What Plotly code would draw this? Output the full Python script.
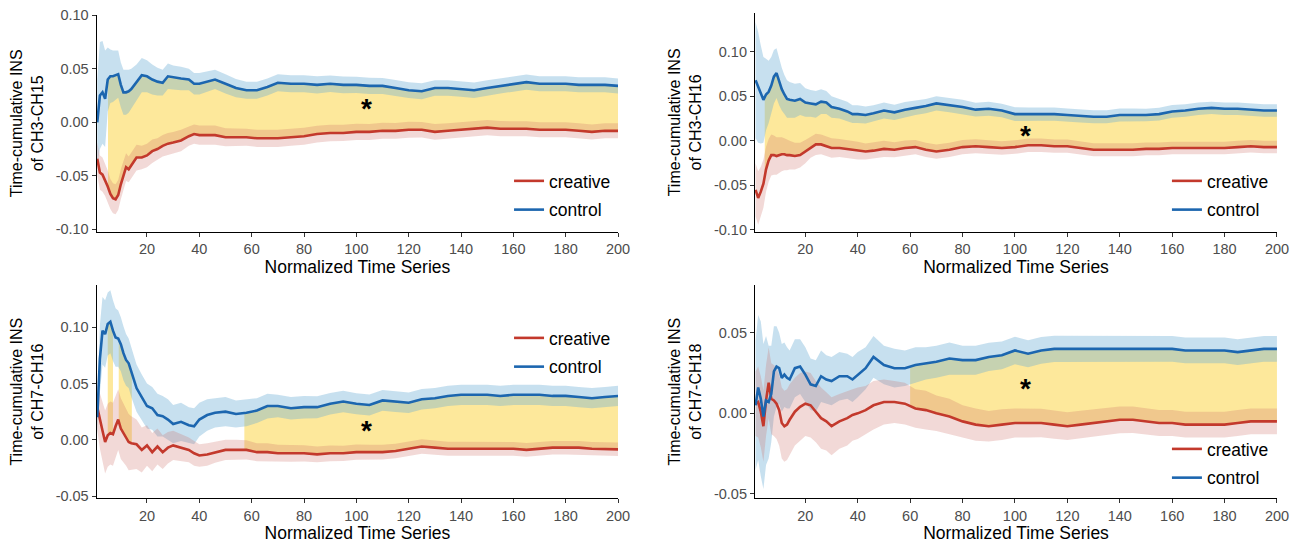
import numpy as np
import plotly.graph_objects as go

# ---------------- data ----------------
x_grid = [1, 2, 3, 4, 5, 6, 7, 8, 9, 10, 11, 12, 13, 14,
          16, 18, 20, 22, 24, 26, 28, 30,
          33, 36, 38, 40,
          43, 46, 50, 54, 58, 62, 66, 70,
          75, 80, 85, 90, 95, 100, 105, 110, 115, 120, 125, 130, 135, 140,
          145, 150, 155, 160, 165, 170, 175, 180, 185, 190, 195, 200]

channels = ["CH3-CH15", "CH3-CH16", "CH7-CH16", "CH7-CH18"]
groups = ["creative", "control"]
x_ticks = [20, 40, 60, 80, 100, 120, 140, 160, 180, 200]

# CH3-CH15
p1_control = [0.000, 0.025, 0.028, 0.022, 0.040, 0.043, 0.043, 0.044, 0.045, 0.035, 0.028, 0.028, 0.029, 0.031,
              0.037, 0.044, 0.043, 0.040, 0.038, 0.037, 0.043, 0.042,
              0.041, 0.040, 0.036, 0.036,
              0.038, 0.040, 0.036, 0.032, 0.030, 0.030, 0.033, 0.037,
              0.036, 0.036, 0.035, 0.036, 0.035, 0.035, 0.034, 0.034, 0.032, 0.030, 0.029, 0.032, 0.032, 0.031,
              0.030, 0.032, 0.034, 0.036, 0.0375, 0.036, 0.036, 0.036, 0.035, 0.035, 0.035, 0.034]
p1_control_ci = [0.040, 0.050, 0.048, 0.045, 0.030, 0.025, 0.024, 0.023, 0.022, 0.021, 0.021, 0.021, 0.020, 0.019,
                 0.017, 0.016, 0.015, 0.014, 0.013, 0.012, 0.012, 0.011,
                 0.011, 0.010, 0.010, 0.010,
                 0.0095, 0.009, 0.009, 0.0085, 0.008, 0.008, 0.008, 0.008,
                 0.008, 0.008, 0.008, 0.0078, 0.0078, 0.0076, 0.0076, 0.0075, 0.0075, 0.0074, 0.0074, 0.0073, 0.0073, 0.0072,
                 0.0072, 0.0072, 0.0071, 0.0071, 0.0071, 0.007, 0.007, 0.007, 0.007, 0.007, 0.007, 0.007]
p1_creative = [-0.034, -0.047, -0.049, -0.054, -0.060, -0.067, -0.071, -0.072, -0.068, -0.058, -0.050, -0.042, -0.044, -0.040,
               -0.033, -0.033, -0.031, -0.027, -0.025, -0.022, -0.020, -0.019,
               -0.017, -0.013, -0.011, -0.012,
               -0.012, -0.012, -0.014, -0.014, -0.014, -0.015, -0.015, -0.015,
               -0.014, -0.013, -0.011, -0.010, -0.010, -0.009, -0.009, -0.008, -0.008, -0.007, -0.007, -0.009, -0.008, -0.007,
               -0.006, -0.005, -0.006, -0.006, -0.006, -0.007, -0.007, -0.007, -0.008, -0.009, -0.008, -0.008]
p1_creative_ci = [0.015, 0.016, 0.016, 0.015, 0.015, 0.014, 0.014, 0.014, 0.014, 0.014, 0.013, 0.013, 0.012, 0.012,
                  0.012, 0.011, 0.011, 0.011, 0.010, 0.010, 0.010, 0.010,
                  0.010, 0.009, 0.009, 0.009,
                  0.009, 0.009, 0.0085, 0.0085, 0.008, 0.008, 0.008, 0.008,
                  0.008, 0.008, 0.0078, 0.0078, 0.0076, 0.0076, 0.0075, 0.0075, 0.0074, 0.0074, 0.0073, 0.0073, 0.0072, 0.0072,
                  0.0072, 0.0071, 0.0071, 0.0071, 0.007, 0.007, 0.007, 0.007, 0.007, 0.007, 0.007, 0.007]

# CH3-CH16
p2_control = [0.068, 0.060, 0.052, 0.046, 0.052, 0.055, 0.062, 0.072, 0.076, 0.066, 0.058, 0.052, 0.047, 0.046,
              0.045, 0.047, 0.043, 0.042, 0.041, 0.044, 0.043, 0.038,
              0.036, 0.033, 0.030, 0.030,
              0.029, 0.031, 0.034, 0.032, 0.035, 0.037, 0.039, 0.042,
              0.040, 0.038, 0.035, 0.036, 0.034, 0.030, 0.030, 0.030, 0.030, 0.029, 0.028, 0.027, 0.027, 0.029,
              0.029, 0.029, 0.030, 0.033, 0.034, 0.036, 0.037, 0.036, 0.036, 0.035, 0.034, 0.034]
p2_control_ci = [0.065, 0.062, 0.055, 0.048, 0.040, 0.035, 0.032, 0.030, 0.028, 0.026, 0.024, 0.022, 0.021, 0.020,
                 0.019, 0.018, 0.016, 0.015, 0.015, 0.014, 0.013, 0.012,
                 0.011, 0.011, 0.010, 0.010,
                 0.0095, 0.009, 0.009, 0.0085, 0.0085, 0.008, 0.008, 0.008,
                 0.008, 0.008, 0.0078, 0.0078, 0.0076, 0.0076, 0.0075, 0.0075, 0.0074, 0.0074, 0.0073, 0.0073, 0.0072, 0.0072,
                 0.0072, 0.0071, 0.0071, 0.0071, 0.007, 0.007, 0.007, 0.007, 0.007, 0.007, 0.007, 0.007]
p2_creative = [-0.055, -0.064, -0.057, -0.048, -0.032, -0.022, -0.016, -0.016, -0.017, -0.016, -0.015, -0.015, -0.016, -0.016,
               -0.017, -0.016, -0.012, -0.007, -0.004, -0.004, -0.006, -0.008,
               -0.008, -0.009, -0.010, -0.011,
               -0.012, -0.011, -0.009, -0.010, -0.008, -0.007, -0.010, -0.012,
               -0.010, -0.007, -0.006, -0.007, -0.008, -0.007, -0.005, -0.005, -0.006, -0.006, -0.008, -0.010, -0.010, -0.010,
               -0.010, -0.009, -0.009, -0.008, -0.008, -0.008, -0.008, -0.008, -0.007, -0.006, -0.007, -0.007]
p2_creative_ci = [0.030, 0.030, 0.028, 0.027, 0.025, 0.024, 0.023, 0.022, 0.021, 0.020, 0.019, 0.018, 0.017, 0.016,
                  0.015, 0.014, 0.013, 0.012, 0.012, 0.011, 0.011, 0.011,
                  0.010, 0.010, 0.010, 0.010,
                  0.009, 0.009, 0.009, 0.0085, 0.0085, 0.008, 0.008, 0.008,
                  0.008, 0.008, 0.0078, 0.0078, 0.0076, 0.0076, 0.0075, 0.0075, 0.0074, 0.0074, 0.0073, 0.0073, 0.0072, 0.0072,
                  0.0072, 0.0071, 0.0071, 0.0071, 0.007, 0.007, 0.007, 0.007, 0.007, 0.007, 0.007, 0.007]

# CH7-CH16
p3_control = [0.020, 0.072, 0.097, 0.094, 0.103, 0.105, 0.097, 0.091, 0.090, 0.085, 0.077, 0.071, 0.068, 0.060,
              0.046, 0.038, 0.030, 0.028, 0.022, 0.021, 0.018, 0.014,
              0.016, 0.013, 0.012, 0.018,
              0.022, 0.024, 0.025, 0.023, 0.024, 0.026, 0.030, 0.030,
              0.028, 0.029, 0.029, 0.032, 0.034, 0.032, 0.031, 0.035, 0.034, 0.033, 0.036, 0.037, 0.039, 0.040,
              0.040, 0.040, 0.039, 0.040, 0.040, 0.040, 0.039, 0.039, 0.038, 0.037, 0.038, 0.039]
p3_control_ci = [0.015, 0.030, 0.030, 0.030, 0.028, 0.028, 0.027, 0.026, 0.025, 0.024, 0.024, 0.023, 0.022, 0.022,
                 0.021, 0.020, 0.020, 0.019, 0.019, 0.018, 0.018, 0.017,
                 0.017, 0.016, 0.016, 0.015,
                 0.014, 0.013, 0.013, 0.012, 0.012, 0.011, 0.011, 0.010,
                 0.010, 0.010, 0.0098, 0.0096, 0.0095, 0.0094, 0.0093, 0.0092, 0.0092, 0.0091, 0.0091, 0.009, 0.009, 0.009,
                 0.009, 0.009, 0.009, 0.009, 0.009, 0.009, 0.009, 0.009, 0.009, 0.009, 0.009, 0.009]
p3_creative = [0.029, 0.017, 0.008, -0.002, 0.004, 0.006, 0.005, 0.012, 0.018, 0.010, 0.006, 0.002, -0.002, -0.003,
               -0.004, -0.009, -0.005, -0.011, -0.006, -0.011, -0.007, -0.005,
               -0.007, -0.009, -0.012, -0.014,
               -0.013, -0.011, -0.009, -0.009, -0.009, -0.011, -0.011, -0.012,
               -0.012, -0.012, -0.013, -0.012, -0.012, -0.011, -0.011, -0.011, -0.010, -0.008, -0.006, -0.007, -0.008, -0.008,
               -0.008, -0.008, -0.008, -0.008, -0.009, -0.008, -0.007, -0.007, -0.007, -0.008, -0.008, -0.0085]
p3_creative_ci = [0.020, 0.025, 0.027, 0.028, 0.028, 0.028, 0.028, 0.028, 0.027, 0.027, 0.026, 0.025, 0.025, 0.024,
                  0.022, 0.020, 0.018, 0.017, 0.016, 0.015, 0.014, 0.013,
                  0.012, 0.011, 0.011, 0.010,
                  0.010, 0.0095, 0.009, 0.009, 0.0085, 0.008, 0.008, 0.0075,
                  0.0075, 0.0072, 0.007, 0.007, 0.0068, 0.0068, 0.0066, 0.0066, 0.0065, 0.0065, 0.0064, 0.0064, 0.0063, 0.0063,
                  0.0062, 0.0062, 0.0062, 0.0061, 0.0061, 0.006, 0.006, 0.006, 0.006, 0.006, 0.006, 0.006]

# CH7-CH18
p4_control = [0.005, 0.016, 0.009, -0.002, 0.008, 0.007, 0.012, 0.026, 0.029, 0.028, 0.022, 0.024, 0.022, 0.021,
              0.028, 0.029, 0.024, 0.018, 0.017, 0.023, 0.021, 0.020,
              0.023, 0.023, 0.021, 0.024,
              0.028, 0.035, 0.030, 0.028, 0.028, 0.030, 0.031, 0.032,
              0.034, 0.033, 0.033, 0.035, 0.036, 0.039, 0.037, 0.039, 0.040, 0.040, 0.040, 0.040, 0.040, 0.040,
              0.040, 0.040, 0.040, 0.040, 0.039, 0.039, 0.039, 0.039, 0.038, 0.039, 0.040, 0.040]
p4_control_ci = [0.040, 0.045, 0.048, 0.045, 0.040, 0.035, 0.030, 0.028, 0.025, 0.022, 0.021, 0.020, 0.019, 0.018,
                 0.018, 0.017, 0.017, 0.016, 0.016, 0.016, 0.015, 0.015,
                 0.015, 0.014, 0.014, 0.014,
                 0.013, 0.013, 0.012, 0.012, 0.011, 0.011, 0.010, 0.010,
                 0.010, 0.009, 0.009, 0.0088, 0.0086, 0.0085, 0.0084, 0.0083, 0.0082, 0.0082, 0.0081, 0.0081, 0.008, 0.008,
                 0.008, 0.008, 0.008, 0.008, 0.008, 0.008, 0.008, 0.008, 0.008, 0.008, 0.008, 0.008]
p4_creative = [0.006, 0.007, 0.001, -0.008, 0.008, 0.019, 0.009, 0.008, 0.006, 0.002, -0.006, -0.008, -0.007, -0.004,
               0.001, 0.004, 0.006, 0.005, 0.001, -0.003, -0.005, -0.008,
               -0.005, -0.003, -0.001, 0.000,
               0.002, 0.005, 0.007, 0.007, 0.006, 0.003, 0.002, 0.000,
               -0.002, -0.005, -0.007, -0.008, -0.007, -0.006, -0.006, -0.006, -0.007, -0.008, -0.007, -0.006, -0.005, -0.004,
               -0.004, -0.005, -0.006, -0.006, -0.007, -0.007, -0.007, -0.007, -0.006, -0.005, -0.005, -0.005]
p4_creative_ci = [0.020, 0.022, 0.022, 0.022, 0.022, 0.022, 0.022, 0.022, 0.022, 0.022, 0.022, 0.022, 0.022, 0.022,
                  0.021, 0.021, 0.020, 0.020, 0.019, 0.019, 0.018, 0.018,
                  0.017, 0.017, 0.016, 0.016,
                  0.015, 0.015, 0.014, 0.013, 0.013, 0.012, 0.012, 0.011,
                  0.011, 0.010, 0.010, 0.0095, 0.0095, 0.009, 0.009, 0.0088, 0.0088, 0.0086, 0.0086, 0.0085, 0.0084, 0.0083,
                  0.0082, 0.0081, 0.008, 0.008, 0.008, 0.008, 0.008, 0.008, 0.008, 0.008, 0.008, 0.008]

# significant intervals (yellow) per panel
p1_sig = [(5.1, 200)]
p2_sig = [(4.5, 200)]
p3_sig = [(5.0, 7.0), (9.2, 14.2), (57.2, 200)]
p4_sig = [(60, 200)]

# y tick values / labels per panel
yt_wide = [-0.10, -0.05, 0.0, 0.05, 0.10]
yt_wide_lbl = ["-0.10", "-0.05", "0.00", "0.05", "0.10"]
yt_p3 = [-0.05, 0.0, 0.05, 0.10]
yt_p3_lbl = ["-0.05", "0.00", "0.05", "0.10"]
yt_p4 = [-0.05, 0.0, 0.05]
yt_p4_lbl = ["-0.05", "0.00", "0.05"]

star_x = [104, 104, 104, 104]
star_y = [0.016, 0.009, 0.011, 0.017]

# ---------------- styling ----------------
RED = "#C3392C"
BLUE = "#1C66AF"
RED_RIB = "rgba(205,110,100,0.26)"
BLUE_RIB = "rgba(107,174,214,0.38)"
YELLOW = "#FDE89B"
FONT = "Liberation Sans, Arial, sans-serif"

# the page body adds an 8px offset, so the figure is 8px smaller than the window
W, H = 1290, 535

panels = [
    dict(ctrl=p1_control, ctrl_ci=p1_control_ci, cre=p1_creative, cre_ci=p1_creative_ci, sig=p1_sig,
         xd=[0.0688, 0.4729], yd=[0.5819, 0.9869], yr=[-0.1023, 0.1003],
         tv=yt_wide, tt=yt_wide_lbl, leg=(0.3884, 0.7103)),
    dict(ctrl=p2_control, ctrl_ci=p2_control_ci, cre=p2_creative, cre_ci=p2_creative_ci, sig=p2_sig,
         xd=[0.5791, 0.9837], yd=[0.5819, 0.9906], yr=[-0.1019, 0.1434],
         tv=yt_wide, tt=yt_wide_lbl, leg=(0.8984, 0.7103)),
    dict(ctrl=p3_control, ctrl_ci=p3_control_ci, cre=p3_creative, cre_ci=p3_creative_ci, sig=p3_sig,
         xd=[0.0688, 0.4729], yd=[0.0836, 0.4822], yr=[-0.052, 0.1376],
         tv=yt_p3, tt=yt_p3_lbl, leg=(0.3884, 0.4168)),
    dict(ctrl=p4_control, ctrl_ci=p4_control_ci, cre=p4_creative, cre_ci=p4_creative_ci, sig=p4_sig,
         xd=[0.5791, 0.9837], yd=[0.0836, 0.4822], yr=[-0.0527, 0.0796],
         tv=yt_p4, tt=yt_p4_lbl, leg=(0.8984, 0.2093)),
]

xg = np.array(x_grid, dtype=float)
fig = go.Figure()
layout = dict(width=W, height=H, margin=dict(l=0, r=0, t=0, b=0, autoexpand=False),
              paper_bgcolor="white", plot_bgcolor="white",
              font=dict(family=FONT, color="black"), showlegend=True)
annotations = []

for i, p in enumerate(panels):
    n = i + 1
    xa = "x" if n == 1 else f"x{n}"
    ya = "y" if n == 1 else f"y{n}"
    lg = "legend" if n == 1 else f"legend{n}"
    ctrl = np.array(p["ctrl"]); cre = np.array(p["cre"])
    cci = np.array(p["ctrl_ci"]); rci = np.array(p["cre_ci"])

    # yellow significance band between the two means
    for (a, b) in p["sig"]:
        inside = xg[(xg > a) & (xg < b)]
        xs = np.concatenate([[a], inside, [b]])
        up = np.interp(xs, xg, ctrl)
        lo = np.interp(xs, xg, cre)
        fig.add_trace(go.Scatter(x=np.concatenate([xs, xs[::-1]]), y=np.concatenate([up, lo[::-1]]),
                                 fill="toself", fillcolor=YELLOW, line=dict(width=0), mode="lines",
                                 hoverinfo="skip", showlegend=False, xaxis=xa, yaxis=ya))
    # ribbons
    for m, ci, col in [(ctrl, cci, BLUE_RIB), (cre, rci, RED_RIB)]:
        fig.add_trace(go.Scatter(x=np.concatenate([xg, xg[::-1]]),
                                 y=np.concatenate([m + ci, (m - ci)[::-1]]),
                                 fill="toself", fillcolor=col, line=dict(width=0), mode="lines",
                                 hoverinfo="skip", showlegend=False, xaxis=xa, yaxis=ya))
    # lines
    fig.add_trace(go.Scatter(x=xg, y=cre, mode="lines", name=groups[0], line=dict(color=RED, width=2.6),
                             xaxis=xa, yaxis=ya, legend=lg, legendgroup=f"cre{n}"))
    fig.add_trace(go.Scatter(x=xg, y=ctrl, mode="lines", name=groups[1], line=dict(color=BLUE, width=2.6),
                             xaxis=xa, yaxis=ya, legend=lg, legendgroup=f"ctl{n}"))

    axis_common = dict(showgrid=False, zeroline=False, showline=True, linecolor="black", linewidth=1.3,
                       ticks="outside", ticklen=4, tickwidth=1.1, tickcolor="#333333", automargin=False,
                       ticklabeloverflow="allow",
                       tickfont=dict(family=FONT, size=14.5, color="#4D4D4D"))
    layout["xaxis" if n == 1 else f"xaxis{n}"] = dict(
        axis_common, domain=p["xd"], range=[0.8, 200], tickvals=x_ticks,
        anchor=ya, title=dict(text="Normalized Time Series", font=dict(family=FONT, size=17.5, color="black"),
                              standoff=4))
    layout["yaxis" if n == 1 else f"yaxis{n}"] = dict(
        axis_common, domain=p["yd"], range=p["yr"], tickvals=p["tv"], ticktext=p["tt"],
        anchor=xa, title=dict(text=f"Time-cumulative INS<br>of {channels[i]}",
                              font=dict(family=FONT, size=16, color="black"), standoff=8))
    layout[lg] = dict(x=p["leg"][0], y=p["leg"][1], xanchor="left", yanchor="top",
                      bgcolor="rgba(0,0,0,0)", borderwidth=0, font=dict(family=FONT, size=17.5, color="black"),
                      itemwidth=30, tracegroupgap=3, traceorder="grouped")
    annotations.append(dict(x=star_x[i], y=star_y[i], xref=xa, yref=ya, text="<b>*</b>", showarrow=False,
                            font=dict(family=FONT, size=28, color="black"), yshift=-3))

layout["annotations"] = annotations
fig.update_layout(**layout)
fig.write_html("out.html")
